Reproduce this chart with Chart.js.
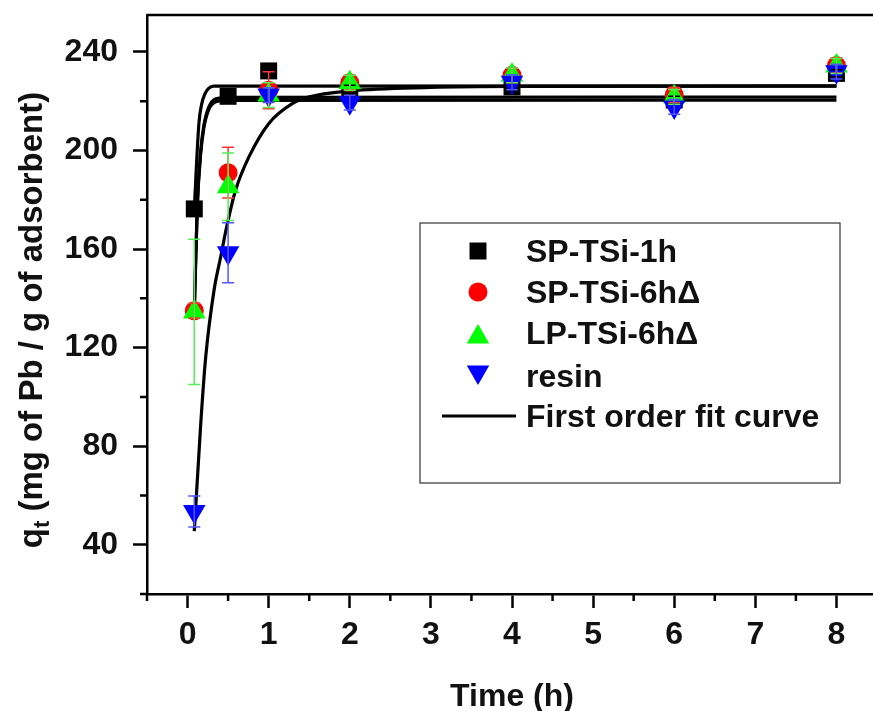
<!DOCTYPE html>
<html>
<head>
<meta charset="utf-8">
<script src="https://cdn.jsdelivr.net/npm/chart.js@4/dist/chart.umd.min.js"></script>
<style>
  html, body { margin: 0; padding: 0; background: #fff; overflow: hidden; }
  #wrap { width: 873px; height: 711px; overflow: hidden; position: relative; }
  canvas { display: block; }
</style>
</head>
<body>
<div id="wrap"><canvas id="kin" width="890" height="730"></canvas></div>
<script>
// sampling times (h)
var times = [0.083, 0.5, 1, 2, 4, 6, 8];

// measured q_t (mg Pb / g adsorbent)
var sp1h  = [176.3, 222, 232.3, 225, 225.8, 220.5, 231.3];
var sp6h  = [135, 191, 224.5, 227.5, 230.5, 222.5, 234.5];
var lp6h  = [134.5, 185.3, 222.5, 227.5, 230.5, 221.8, 234.3];
var resin = [53.5, 158.5, 222.5, 219.4, 227.7, 217.7, 232];

// error bar half-widths
var sp1hErr  = [1.5, 1.5, 1.5, 1.5, 1.5, 1.5, 1.5];
var sp6hErr  = [3, 10.3, 7.5, 3, 3, 3, 3];
var lp6hErr  = [29.5, 13.7, 5, 3, 3, 3, 3];
var resinErr = [6.3, 12.2, 3, 3, 3, 3, 3];

// first order fit curves
var fit1hT = [0.083, 0.14, 0.175, 0.215, 0.26, 0.32, 8];
var fit1hQ = [176.3, 211, 219, 223, 225.2, 226.1, 226.2];
var fitSp6T = [0.083, 0.12, 0.16, 0.2, 0.26, 0.35, 0.5, 8];
var fitSp6Q = [135, 178, 199, 210, 217.5, 221, 221.6, 221.7];
var fitLp6T = [0.083, 0.12, 0.16, 0.2, 0.26, 0.35, 0.5, 8];
var fitLp6Q = [134.5, 177, 198, 209, 216.5, 219.8, 220.3, 220.4];
var fitResT = [0.083, 0.162, 0.223, 0.325, 0.407, 0.49, 0.59, 0.755, 1.0, 1.29, 1.49, 2, 3, 4, 8];
var fitResQ = [45.5, 88.8, 115.9, 143, 156.6, 170.2, 183.7, 197.3, 210.9, 219, 221.7, 224.2, 225.6, 226, 226.1];

var xTicks = [0, 1, 2, 3, 4, 5, 6, 7, 8];
var yTicks = [40, 80, 120, 160, 200, 240];

var FONT = "'Liberation Sans', Arial, sans-serif";

function pts(xs, ys) {
  return xs.map(function (x, i) { return { x: x, y: ys[i] }; });
}

function fitSet(xs, ys) {
  return {
    label: 'fit', data: pts(xs, ys), showLine: true, pointRadius: 0,
    borderColor: '#000', borderWidth: 3.2, cubicInterpolationMode: 'monotone',
    order: 10
  };
}

var series = [
  { label: 'SP-TSi-1h', data: sp1h, err: sp1hErr, color: '#000', errColor: '#000', style: 'rect', r: 12, rot: 0, order: 4 },
  { label: 'SP-TSi-6h\u0394', data: sp6h, err: sp6hErr, color: '#ff0000', errColor: '#ff3333', style: 'circle', r: 9.5, rot: 0, order: 3 },
  { label: 'LP-TSi-6h\u0394', data: lp6h, err: lp6hErr, color: '#00ff00', errColor: '#55ee55', style: 'triangle', r: 13, rot: 0, order: 2 },
  { label: 'resin', data: resin, err: resinErr, color: '#0000ff', errColor: '#5555ff', style: 'triangle', r: 13, rot: 180, order: 1 }
];

function shape(ctx, style, r, rot, x, y) {
  ctx.beginPath();
  if (style === 'rect') {
    var s = r * Math.SQRT1_2;
    ctx.rect(x - s, y - s, 2 * s, 2 * s);
  } else if (style === 'circle') {
    ctx.arc(x, y, r, 0, Math.PI * 2);
  } else {
    var a = rot * Math.PI / 180;
    for (var k = 0; k < 3; k++) {
      var px = x + Math.sin(a) * r, py = y - Math.cos(a) * r;
      if (k === 0) ctx.moveTo(px, py); else ctx.lineTo(px, py);
      a += 2 * Math.PI / 3;
    }
    ctx.closePath();
  }
  ctx.fill();
}

var datasets = series.map(function (s) {
  return {
    label: s.label, data: pts(times, s.data), errors: s.err, errColor: s.errColor,
    backgroundColor: s.color, borderColor: s.color, pointStyle: s.style,
    pointRadius: s.r, pointRotation: s.rot, pointBorderWidth: 0, pointHoverRadius: s.r,
    order: s.order
  };
});
datasets.push(fitSet(fit1hT, fit1hQ), fitSet(fitSp6T, fitSp6Q), fitSet(fitLp6T, fitLp6Q), fitSet(fitResT, fitResQ));

var extras = {
  id: 'extras',
  afterDatasetsDraw: function (chart) {
    var ctx = chart.ctx, xs = chart.scales.x, ys = chart.scales.y;
    ctx.save();
    ctx.lineWidth = 1.5;
    chart.data.datasets.forEach(function (ds) {
      if (!ds.errors) return;
      ctx.strokeStyle = ds.errColor;
      ds.data.forEach(function (p, i) {
        var e = ds.errors[i];
        var x = xs.getPixelForValue(p.x);
        var y1 = ys.getPixelForValue(p.y - e), y2 = ys.getPixelForValue(p.y + e);
        ctx.beginPath();
        ctx.moveTo(x, y1); ctx.lineTo(x, y2);
        ctx.moveTo(x - 6, y1); ctx.lineTo(x + 6, y1);
        ctx.moveTo(x - 6, y2); ctx.lineTo(x + 6, y2);
        ctx.stroke();
      });
    });
    ctx.restore();
  },
  afterDraw: function (chart) {
    var ctx = chart.ctx, a = chart.chartArea, xs = chart.scales.x, ys = chart.scales.y;
    ctx.save();
    ctx.strokeStyle = '#000';
    ctx.lineWidth = 2.5;
    // top frame
    ctx.beginPath(); ctx.moveTo(a.left, a.top); ctx.lineTo(a.right, a.top); ctx.stroke();
    // minor ticks
    ctx.beginPath();
    for (var v = -0.5; v <= 8.5; v += 1) {
      var x = xs.getPixelForValue(v);
      ctx.moveTo(x, a.bottom); ctx.lineTo(x, a.bottom + 7);
    }
    for (var w = 20; w <= 240; w += 40) {
      var y = ys.getPixelForValue(w);
      ctx.moveTo(a.left, y); ctx.lineTo(a.left - 7, y);
    }
    ctx.stroke();

    // y title with subscript
    ctx.fillStyle = '#111';
    ctx.translate(41.5, 320);
    ctx.rotate(-Math.PI / 2);
    ctx.textBaseline = 'alphabetic';
    var big = 'bold 33px ' + FONT, small = 'bold 22px ' + FONT;
    var rest = ' (mg of Pb / g of adsorbent)';
    ctx.font = big; var wq = ctx.measureText('q').width, wr = ctx.measureText(rest).width;
    ctx.font = small; var wt = ctx.measureText('t').width;
    var x0 = -(wq + wt + wr) / 2;
    ctx.font = big; ctx.fillText('q', x0, 0);
    ctx.font = small; ctx.fillText('t', x0 + wq, 7);
    ctx.font = big; ctx.fillText(rest, x0 + wq + wt, 0);
    ctx.setTransform(1, 0, 0, 1, 0, 0);

    // legend
    ctx.lineWidth = 1.2;
    ctx.strokeStyle = '#333';
    ctx.strokeRect(420, 223, 420, 260);
    var rows = [251, 292, 333, 376, 416];
    ctx.font = 'bold 32px ' + FONT;
    ctx.textBaseline = 'middle';
    ctx.textAlign = 'left';
    series.forEach(function (s, i) {
      ctx.fillStyle = s.color;
      shape(ctx, s.style, s.r, s.rot, 478, rows[i] + (s.style === 'triangle' ? (s.rot ? -4 : 4) : 0));
      ctx.fillStyle = '#111';
      ctx.fillText(s.label, 526, rows[i] + 2);
    });
    ctx.strokeStyle = '#000';
    ctx.lineWidth = 3;
    ctx.beginPath(); ctx.moveTo(442, rows[4]); ctx.lineTo(516, rows[4]); ctx.stroke();
    ctx.fillStyle = '#111';
    ctx.fillText('First order fit curve', 526, rows[4] + 2);
    ctx.restore();
  }
};

new Chart(document.getElementById('kin'), {
  type: 'scatter',
  data: { datasets: datasets },
  options: {
    responsive: false,
    animation: false,
    devicePixelRatio: 1,
    layout: { padding: { left: 0, top: 15, right: 9, bottom: 0 } },
    plugins: { legend: { display: false }, tooltip: { enabled: false } },
    scales: {
      x: {
        type: 'linear', min: -0.5, max: 8.5,
        afterFit: function (s) { s.height = 136; s.paddingLeft = 0; s.paddingRight = 0; },
        afterBuildTicks: function (s) { s.ticks = xTicks.map(function (v) { return { value: v }; }); },
        ticks: { color: '#111', padding: 8, font: { family: FONT, size: 32, weight: 'bold' } },
        grid: { drawOnChartArea: false, drawTicks: true, tickLength: 14, tickWidth: 2.5, tickColor: '#000' },
        border: { display: true, color: '#000', width: 2.5 },
        title: { display: true, text: 'Time (h)', color: '#111', padding: { top: 0, bottom: 14 }, font: { family: FONT, size: 32, weight: 'bold' } }
      },
      y: {
        type: 'linear', min: 20, max: 255,
        afterFit: function (s) { s.width = 147; s.paddingTop = 0; s.paddingBottom = 0; },
        afterBuildTicks: function (s) { s.ticks = yTicks.map(function (v) { return { value: v }; }); },
        ticks: { color: '#111', padding: 15, font: { family: FONT, size: 32, weight: 'bold' } },
        grid: { drawOnChartArea: false, drawTicks: true, tickLength: 14, tickWidth: 2.5, tickColor: '#000' },
        border: { display: true, color: '#000', width: 2.5 }
      }
    }
  },
  plugins: [extras]
});
</script>
</body>
</html>
